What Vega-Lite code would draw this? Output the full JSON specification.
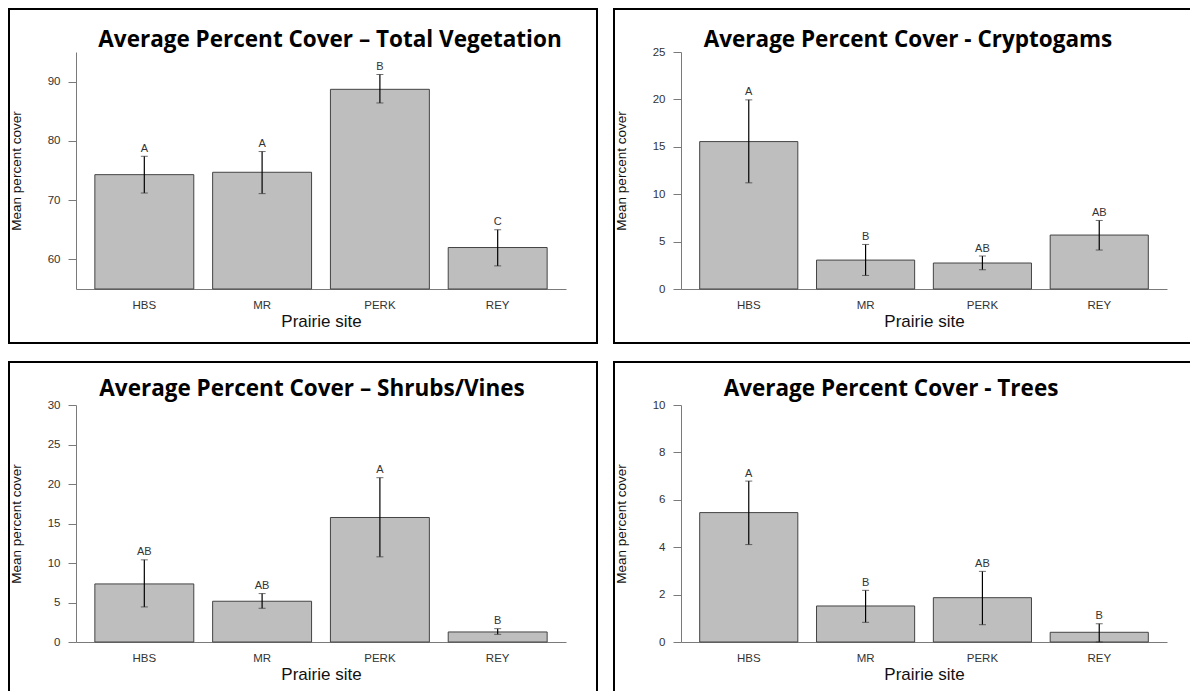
{
  "$schema": "https://vega.github.io/schema/vega-lite/v6.json",
  "padding": {"left": 8, "top": 8, "right": 0, "bottom": 0},
  "background": "white",
  "config": {
    "view": {"stroke": "black", "strokeWidth": 2},
    "axis": {"domainColor": "#7a7a7a", "tickColor": "#7a7a7a", "labelColor": "#333333", "labelFont": "Liberation Sans", "labelFontSize": 11.5, "titleFont": "Liberation Sans", "titleFontWeight": "normal", "titleColor": "#111111", "grid": false},
    "axisX": {"offset": -54, "ticks": false, "tickSize": 0, "labelPadding": 10, "labelAngle": 0, "titleFontSize": 17, "titlePadding": 3},
    "axisY": {"offset": -67, "tickSize": 8, "labelPadding": 8, "titleFont": "Liberation Sans", "titleFontSize": 13.5, "titlePadding": 24},
    "title": {"font": "Open Sans", "fontSize": 22.5, "fontWeight": "bold", "color": "black", "anchor": "middle", "baseline": "alphabetic", "offset": -42}
  },
  "datasets": {
    "d": [
      {"panel": "total", "site": "HBS", "mean": 74.3, "lo": 71.2, "hi": 77.4, "group": "A"},
      {"panel": "total", "site": "MR", "mean": 74.7, "lo": 71.1, "hi": 78.2, "group": "A"},
      {"panel": "total", "site": "PERK", "mean": 88.7, "lo": 86.4, "hi": 91.2, "group": "B"},
      {"panel": "total", "site": "REY", "mean": 62.0, "lo": 58.9, "hi": 65.0, "group": "C"},
      {"panel": "crypto", "site": "HBS", "mean": 15.55, "lo": 11.2, "hi": 19.95, "group": "A"},
      {"panel": "crypto", "site": "MR", "mean": 3.05, "lo": 1.43, "hi": 4.7, "group": "B"},
      {"panel": "crypto", "site": "PERK", "mean": 2.74, "lo": 2.03, "hi": 3.48, "group": "AB"},
      {"panel": "crypto", "site": "REY", "mean": 5.69, "lo": 4.11, "hi": 7.23, "group": "AB"},
      {"panel": "shrub", "site": "HBS", "mean": 7.35, "lo": 4.44, "hi": 10.4, "group": "AB"},
      {"panel": "shrub", "site": "MR", "mean": 5.16, "lo": 4.27, "hi": 6.13, "group": "AB"},
      {"panel": "shrub", "site": "PERK", "mean": 15.76, "lo": 10.78, "hi": 20.8, "group": "A"},
      {"panel": "shrub", "site": "REY", "mean": 1.27, "lo": 0.97, "hi": 1.69, "group": "B"},
      {"panel": "tree", "site": "HBS", "mean": 5.46, "lo": 4.11, "hi": 6.79, "group": "A"},
      {"panel": "tree", "site": "MR", "mean": 1.52, "lo": 0.83, "hi": 2.18, "group": "B"},
      {"panel": "tree", "site": "PERK", "mean": 1.87, "lo": 0.73, "hi": 2.98, "group": "AB"},
      {"panel": "tree", "site": "REY", "mean": 0.41, "lo": 0.0, "hi": 0.77, "group": "B"}
    ]
  },
  "spacing": 17,
  "vconcat": [
    {
      "spacing": 15,
      "hconcat": [
        {
          "width": 588, "height": 334,
          "title": {"text": "Average Percent Cover – Total Vegetation", "dx": 27},
          "data": {"name": "d"},
          "transform": [{"filter": "datum.panel == 'total'"}],
          "encoding": {"x": {"field": "site", "type": "nominal", "scale": {"range": [67, 557], "paddingInner": 0.16, "paddingOuter": 0.16}, "axis": {"title": "Prairie site"}}},
          "layer": [
            {"mark": {"type": "bar", "fill": "#bebebe", "stroke": "#444444", "strokeWidth": 1},
             "encoding": {"y": {"field": "mean", "type": "quantitative", "title": "Mean percent cover", "scale": {"domain": [55, 95], "range": [280, 43], "nice": false, "zero": false}, "axis": {"values": [60, 70, 80, 90]}}, "y2": {"datum": 55}}},
            {"mark": {"type": "rule", "color": "black", "strokeWidth": 1.2}, "encoding": {"y": {"field": "lo", "type": "quantitative", "title": "Mean percent cover"}, "y2": {"field": "hi"}}},
            {"mark": {"type": "tick", "color": "#333333", "size": 7, "thickness": 1}, "encoding": {"y": {"field": "lo", "type": "quantitative", "title": "Mean percent cover"}}},
            {"mark": {"type": "tick", "color": "#333333", "size": 7, "thickness": 1}, "encoding": {"y": {"field": "hi", "type": "quantitative", "title": "Mean percent cover"}}},
            {"mark": {"type": "text", "font": "Liberation Sans", "fontSize": 11, "color": "#333333", "baseline": "alphabetic", "dy": -4.5}, "encoding": {"y": {"field": "hi", "type": "quantitative", "title": "Mean percent cover"}, "text": {"field": "group"}}}
          ]
        },
        {
          "width": 588, "height": 334,
          "title": {"text": "Average Percent Cover - Cryptogams", "dx": 0},
          "data": {"name": "d"},
          "transform": [{"filter": "datum.panel == 'crypto'"}],
          "encoding": {"x": {"field": "site", "type": "nominal", "scale": {"range": [67, 553], "paddingInner": 0.16, "paddingOuter": 0.16}, "axis": {"title": "Prairie site"}}},
          "layer": [
            {"mark": {"type": "bar", "fill": "#bebebe", "stroke": "#444444", "strokeWidth": 1},
             "encoding": {"y": {"field": "mean", "type": "quantitative", "title": "Mean percent cover", "scale": {"domain": [0, 25], "range": [280, 43], "nice": false}, "axis": {"values": [0, 5, 10, 15, 20, 25]}}, "y2": {"datum": 0}}},
            {"mark": {"type": "rule", "color": "black", "strokeWidth": 1.2}, "encoding": {"y": {"field": "lo", "type": "quantitative", "title": "Mean percent cover"}, "y2": {"field": "hi"}}},
            {"mark": {"type": "tick", "color": "#333333", "size": 7, "thickness": 1}, "encoding": {"y": {"field": "lo", "type": "quantitative", "title": "Mean percent cover"}}},
            {"mark": {"type": "tick", "color": "#333333", "size": 7, "thickness": 1}, "encoding": {"y": {"field": "hi", "type": "quantitative", "title": "Mean percent cover"}}},
            {"mark": {"type": "text", "font": "Liberation Sans", "fontSize": 11, "color": "#333333", "baseline": "alphabetic", "dy": -4.5}, "encoding": {"y": {"field": "hi", "type": "quantitative", "title": "Mean percent cover"}, "text": {"field": "group"}}}
          ]
        }
      ]
    },
    {
      "spacing": 15,
      "hconcat": [
        {
          "width": 588, "height": 334,
          "title": {"text": "Average Percent Cover – Shrubs/Vines", "dx": 9, "offset": -38},
          "data": {"name": "d"},
          "transform": [{"filter": "datum.panel == 'shrub'"}],
          "encoding": {"x": {"field": "site", "type": "nominal", "scale": {"range": [67, 557], "paddingInner": 0.16, "paddingOuter": 0.16}, "axis": {"title": "Prairie site"}}},
          "layer": [
            {"mark": {"type": "bar", "fill": "#bebebe", "stroke": "#444444", "strokeWidth": 1},
             "encoding": {"y": {"field": "mean", "type": "quantitative", "title": "Mean percent cover", "scale": {"domain": [0, 30], "range": [280, 43], "nice": false}, "axis": {"values": [0, 5, 10, 15, 20, 25, 30]}}, "y2": {"datum": 0}}},
            {"mark": {"type": "rule", "color": "black", "strokeWidth": 1.2}, "encoding": {"y": {"field": "lo", "type": "quantitative", "title": "Mean percent cover"}, "y2": {"field": "hi"}}},
            {"mark": {"type": "tick", "color": "#333333", "size": 7, "thickness": 1}, "encoding": {"y": {"field": "lo", "type": "quantitative", "title": "Mean percent cover"}}},
            {"mark": {"type": "tick", "color": "#333333", "size": 7, "thickness": 1}, "encoding": {"y": {"field": "hi", "type": "quantitative", "title": "Mean percent cover"}}},
            {"mark": {"type": "text", "font": "Liberation Sans", "fontSize": 11, "color": "#333333", "baseline": "alphabetic", "dy": -4.5}, "encoding": {"y": {"field": "hi", "type": "quantitative", "title": "Mean percent cover"}, "text": {"field": "group"}}}
          ]
        },
        {
          "width": 588, "height": 334,
          "title": {"text": "Average Percent Cover - Trees", "dx": -17, "offset": -38},
          "data": {"name": "d"},
          "transform": [{"filter": "datum.panel == 'tree'"}],
          "encoding": {"x": {"field": "site", "type": "nominal", "scale": {"range": [67, 553], "paddingInner": 0.16, "paddingOuter": 0.16}, "axis": {"title": "Prairie site"}}},
          "layer": [
            {"mark": {"type": "bar", "fill": "#bebebe", "stroke": "#444444", "strokeWidth": 1},
             "encoding": {"y": {"field": "mean", "type": "quantitative", "title": "Mean percent cover", "scale": {"domain": [0, 10], "range": [280, 43], "nice": false}, "axis": {"values": [0, 2, 4, 6, 8, 10]}}, "y2": {"datum": 0}}},
            {"mark": {"type": "rule", "color": "black", "strokeWidth": 1.2}, "encoding": {"y": {"field": "lo", "type": "quantitative", "title": "Mean percent cover"}, "y2": {"field": "hi"}}},
            {"mark": {"type": "tick", "color": "#333333", "size": 7, "thickness": 1}, "encoding": {"y": {"field": "lo", "type": "quantitative", "title": "Mean percent cover"}}},
            {"mark": {"type": "tick", "color": "#333333", "size": 7, "thickness": 1}, "encoding": {"y": {"field": "hi", "type": "quantitative", "title": "Mean percent cover"}}},
            {"mark": {"type": "text", "font": "Liberation Sans", "fontSize": 11, "color": "#333333", "baseline": "alphabetic", "dy": -4.5}, "encoding": {"y": {"field": "hi", "type": "quantitative", "title": "Mean percent cover"}, "text": {"field": "group"}}}
          ]
        }
      ]
    }
  ]
}
